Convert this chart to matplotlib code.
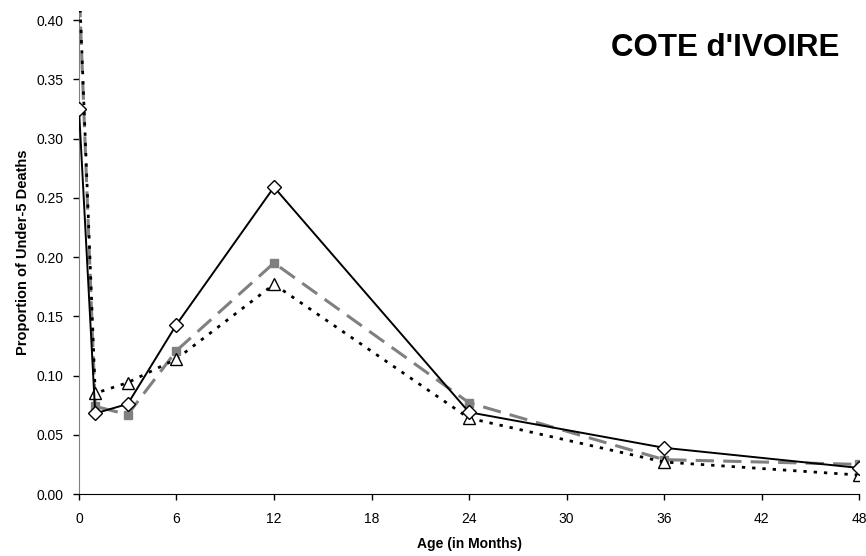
import matplotlib.pyplot as plt

plt.rcParams['font.family'] = ['Liberation Sans', 'DejaVu Sans']

# age in months
ages = [0, 1, 3, 6, 12, 24, 36, 48]

# three series of proportion of under-5 deaths
solid_vals = [0.325, 0.068, 0.076, 0.143, 0.259, 0.069, 0.039, 0.022]
gray_vals = [0.43, 0.074, 0.067, 0.121, 0.195, 0.077, 0.029, 0.025]
dotted_vals = [0.435, 0.085, 0.094, 0.114, 0.177, 0.064, 0.027, 0.016]

x_ticks = [0, 6, 12, 18, 24, 30, 36, 42, 48]
y_ticks = [0.00, 0.05, 0.10, 0.15, 0.20, 0.25, 0.30, 0.35, 0.40]

fig = plt.figure(figsize=(8.66, 5.56), dpi=100)
ax = fig.add_axes([0.0912, 0.1115, 0.9008, 0.8695])

ax.plot(ages, gray_vals, color="#808080", linestyle=(0, (6, 3)), linewidth=2.2,
        marker="s", markersize=6, markerfacecolor="#808080", markeredgecolor="#808080", zorder=2)
ax.plot(ages, dotted_vals, color="black", linestyle=(0, (1.2, 2.5)), linewidth=2,
        marker="^", markersize=8, markerfacecolor="white", markeredgecolor="black",
        markeredgewidth=1, zorder=3)
ax.plot(ages, solid_vals, color="black", linestyle="-", linewidth=1.4,
        marker="D", markersize=7, markerfacecolor="white", markeredgecolor="black",
        markeredgewidth=1, zorder=4)

ax.set_xlim(0, 48)
ax.set_ylim(0, 0.408)
ax.set_xticks(x_ticks)
ax.set_yticks(y_ticks)
ax.set_xticklabels([str(t) for t in x_ticks], fontsize=10)
ax.set_yticklabels([f"{t:.2f}" for t in y_ticks], fontsize=10)
ax.tick_params(direction="out", length=4, width=1)
ax.tick_params(axis="x", pad=9)
ax.tick_params(axis="y", pad=7)

ax.spines['top'].set_visible(False)
ax.spines['right'].set_visible(False)
ax.spines['left'].set_color("#808080")
ax.spines['bottom'].set_color("black")
ax.spines['left'].set_bounds(0, 0.403)

ax.set_xlabel("Age (in Months)", fontsize=10, fontweight="bold", labelpad=8)
ax.set_ylabel("Proportion of Under-5 Deaths", fontsize=10.5, fontweight="bold", labelpad=5)

ax.text(46.8, 0.376, "COTE d'IVOIRE", fontsize=22.5, fontweight="bold",
        ha="right", va="center")

plt.savefig("out.png", dpi=100)
